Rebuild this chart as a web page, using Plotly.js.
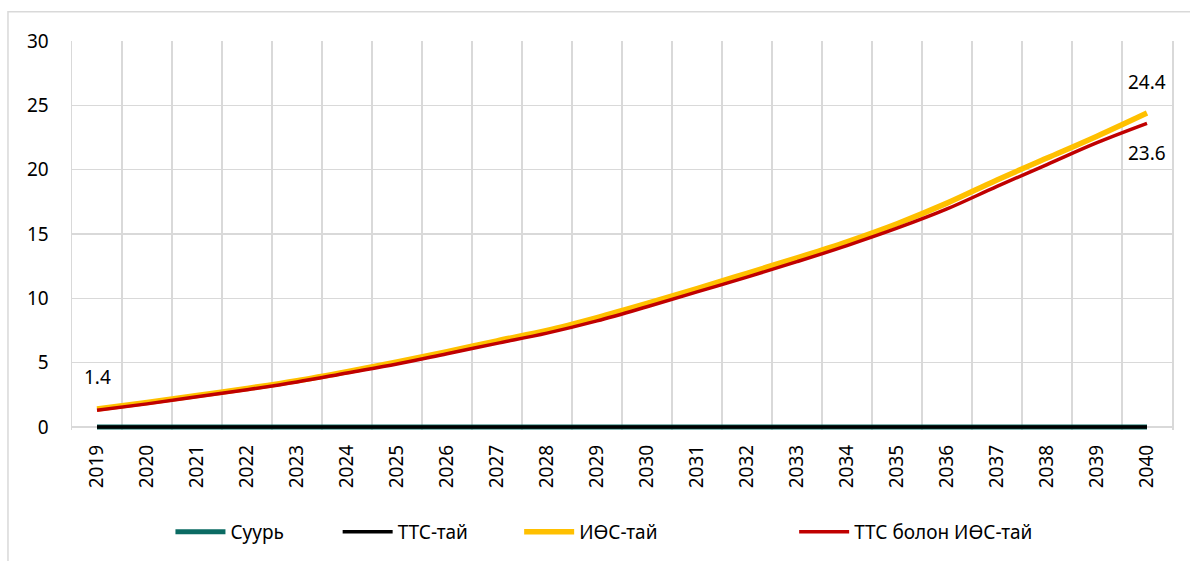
<!DOCTYPE html>
<html>
<head>
<meta charset="utf-8">
<script src="https://cdn.plot.ly/plotly-3.0.1.min.js"></script>
<style>html,body{margin:0;padding:0;background:#fff;}#chart{width:1190px;height:561px;}</style>
</head>
<body>
<div id="chart"></div>
<script>
const years = ['2019','2020','2021','2022','2023','2024','2025','2026','2027','2028','2029','2030','2031','2032','2033','2034','2035','2036','2037','2038','2039','2040'];
const suur = [0,0,0,0,0,0,0,0,0,0,0,0,0,0,0,0,0,0,0,0,0,0];
const ttsTai = [0,0,0,0,0,0,0,0,0,0,0,0,0,0,0,0,0,0,0,0,0,0];
const iosTai = [1.4,1.9,2.45,3.0,3.6,4.3,5.05,5.85,6.7,7.5,8.5,9.6,10.75,11.95,13.15,14.4,15.8,17.4,19.2,20.9,22.6,24.4];
const ttsIosTai = [1.3,1.8,2.35,2.9,3.5,4.2,4.9,5.7,6.5,7.3,8.25,9.35,10.5,11.65,12.85,14.1,15.45,16.95,18.7,20.4,22.1,23.6];
const names = ['Суурь','ТТС-тай','ИӨС-тай','ТТС болон ИӨС-тай'];
const labelFirst = {x:'2019', y:1.4, text:'1.4'};
const labelEnd1 = {x:'2040', y:24.4, text:'24.4'};
const labelEnd2 = {x:'2040', y:23.6, text:'23.6'};

const FONT = 'Noto Sans, Liberation Sans, sans-serif';
const traces = [
  {x:years, y:suur, name:names[0], mode:'lines', line:{color:'#0B6B63', width:5}, legend:'legend'},
  {x:years, y:ttsTai, name:names[1], mode:'lines', line:{color:'#000000', width:3.5}, legend:'legend2'},
  {x:years, y:iosTai, name:names[2], mode:'lines', line:{color:'#FFC000', width:5.5, shape:'spline'}, legend:'legend3'},
  {x:years, y:ttsIosTai, name:names[3], mode:'lines', line:{color:'#C00000', width:3.5, shape:'spline'}, legend:'legend4'}
];
const grid = '#D9D9D9';
const legBase = {orientation:'h', y:-0.262, yanchor:'middle', xanchor:'left', font:{family:FONT, size:19, color:'#000'}, itemwidth:50, bgcolor:'rgba(0,0,0,0)', tracegroupgap:0};
function ann(l, shift) {
  return {x:years.indexOf(l.x), y:l.y, text:l.text, showarrow:false, yshift:shift, font:{family:FONT, size:19, color:'#000'}};
}
const layout = {
  width:1190, height:561,
  margin:{l:72, r:18, t:41, b:131, autoexpand:false},
  paper_bgcolor:'#fff', plot_bgcolor:'#fff',
  font:{family:FONT, size:19, color:'#000'},
  showlegend:true,
  legend:Object.assign({}, legBase, {x:0.0895}),
  legend2:Object.assign({}, legBase, {x:0.2415}),
  legend3:Object.assign({}, legBase, {x:0.4065}),
  legend4:Object.assign({}, legBase, {x:0.6565}),
  xaxis:{type:'category', range:[-0.5,21.5], tickson:'boundaries', showgrid:true, gridcolor:grid, gridwidth:1.5,
         showline:false, ticks:'', tickangle:-90, automargin:false,
         tickfont:{family:FONT, size:19, color:'#000'}, ticklabelstandoff:10, zeroline:false},
  yaxis:{range:[-0.23,30], tick0:0, dtick:5, showgrid:true, gridcolor:grid, gridwidth:1.5, showline:true, linecolor:grid,
         linewidth:1.5, mirror:true, zeroline:false, ticks:'', automargin:false, tickfont:{family:FONT, size:19, color:'#000'}, ticklabelstandoff:18},
  shapes:[{type:'rect', xref:'paper', yref:'paper', x0:-0.0582, x1:1.03, y0:-0.4, y1:1.075, line:{color:grid, width:1.5}, fillcolor:'rgba(0,0,0,0)', layer:'below'}],
  annotations:[ann(labelFirst, 32), ann(labelEnd1, 31), ann(labelEnd2, -30)]
};
Plotly.newPlot('chart', traces, layout, {displayModeBar:false, staticPlot:true});
</script>
</body>
</html>
